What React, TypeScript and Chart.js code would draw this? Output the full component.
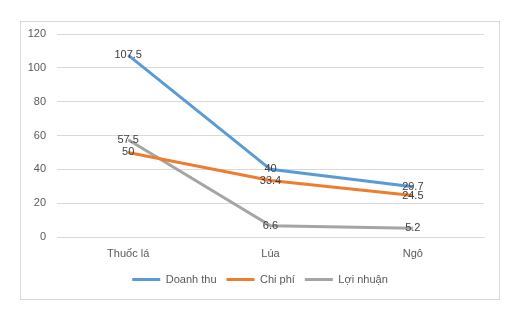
import React, { useEffect, useRef } from "react";
import { Chart, registerables } from "chart.js";

Chart.register(...registerables);

const categories = ["Thuốc lá", "Lúa", "Ngô"];
const doanhThu = [107.5, 40, 29.7];
const chiPhi = [50, 33.4, 24.5];
const loiNhuan = [57.5, 6.6, 5.2];
const seriesNames = ["Doanh thu", "Chi phí", "Lợi nhuận"];
const seriesColors = ["#5B9BD5", "#ED7D31", "#A5A5A5"];
const yMin = 0;
const yMax = 120;
const yStep = 20;

const FONT = "'Liberation Sans', Arial, sans-serif";

const dataLabelPlugin = {
  id: "dataLabels",
  afterDatasetsDraw(chart: any) {
    const ctx = chart.ctx;
    ctx.save();
    ctx.font = `11px ${FONT}`;
    ctx.fillStyle = "#404040";
    ctx.textAlign = "center";
    ctx.textBaseline = "middle";
    chart.data.datasets.forEach((ds: any, i: number) => {
      const meta = chart.getDatasetMeta(i);
      meta.data.forEach((pt: any, j: number) => {
        ctx.fillText(String(ds.data[j]), pt.x, pt.y);
      });
    });
    ctx.restore();
  },
};

export default function App() {
  const ref = useRef<HTMLCanvasElement>(null);
  useEffect(() => {
    if (!ref.current) return;
    const seriesData = [doanhThu, chiPhi, loiNhuan];
    const chart = new Chart(ref.current, {
      type: "line",
      data: {
        labels: categories,
        datasets: seriesData.map((d, i) => ({
          label: seriesNames[i],
          data: d,
          borderColor: seriesColors[i],
          backgroundColor: seriesColors[i],
          borderWidth: 3,
          pointRadius: 0,
          tension: 0,
          yAxisID: "y",
        })),
      },
      options: {
        animation: false,
        responsive: false,
        maintainAspectRatio: false,
        layout: { padding: { left: 20, right: 28, top: 34, bottom: 28 } },
        plugins: {
          tooltip: { enabled: false },
          legend: {
            position: "bottom",
            labels: {
              usePointStyle: true,
              pointStyle: "line",
              pointStyleWidth: 28,
              boxHeight: 3,
              padding: 10,
              color: "#595959",
              font: { size: 11, family: FONT },
            },
          },
        },
        scales: {
          x: {
            offset: true,
            grid: { display: false, drawTicks: false },
            border: { display: true, color: "#d9d9d9" },
            ticks: {
              color: "#595959",
              padding: 10,
              font: { size: 11, family: FONT },
              maxRotation: 0,
            },
            afterFit(scale: any) {
              scale.height = 27;
            },
          },
          y: {
            position: "left",
            min: yMin,
            max: yMax,
            ticks: {
              stepSize: yStep,
              color: "#595959",
              padding: 11,
              font: { size: 11, family: FONT },
            },
            grid: { color: "#d9d9d9", lineWidth: 1, drawTicks: false },
            border: { display: false },
            afterFit(scale: any) {
              scale.width = 37;
            },
          },
          yRight: {
            position: "right",
            display: true,
            min: yMin,
            max: yMax,
            ticks: { display: false },
            grid: { display: false, drawTicks: false },
            border: { display: false },
            afterFit(scale: any) {
              scale.width = 16;
            },
          },
        },
      },
      plugins: [dataLabelPlugin],
    });
    return () => chart.destroy();
  }, []);

  return (
    <div
      style={{
        position: "fixed",
        left: 0,
        top: 0,
        width: 528,
        height: 323,
        background: "#ffffff",
      }}
    >
      <div
        style={{
          position: "absolute",
          left: 20,
          top: 21,
          width: 480,
          height: 279,
          boxSizing: "border-box",
          border: "1px solid #d9d9d9",
        }}
      />
      <canvas
        ref={ref}
        width={528}
        height={323}
        style={{ position: "absolute", left: 0, top: 0, width: 528, height: 323 }}
      />
    </div>
  );
}
